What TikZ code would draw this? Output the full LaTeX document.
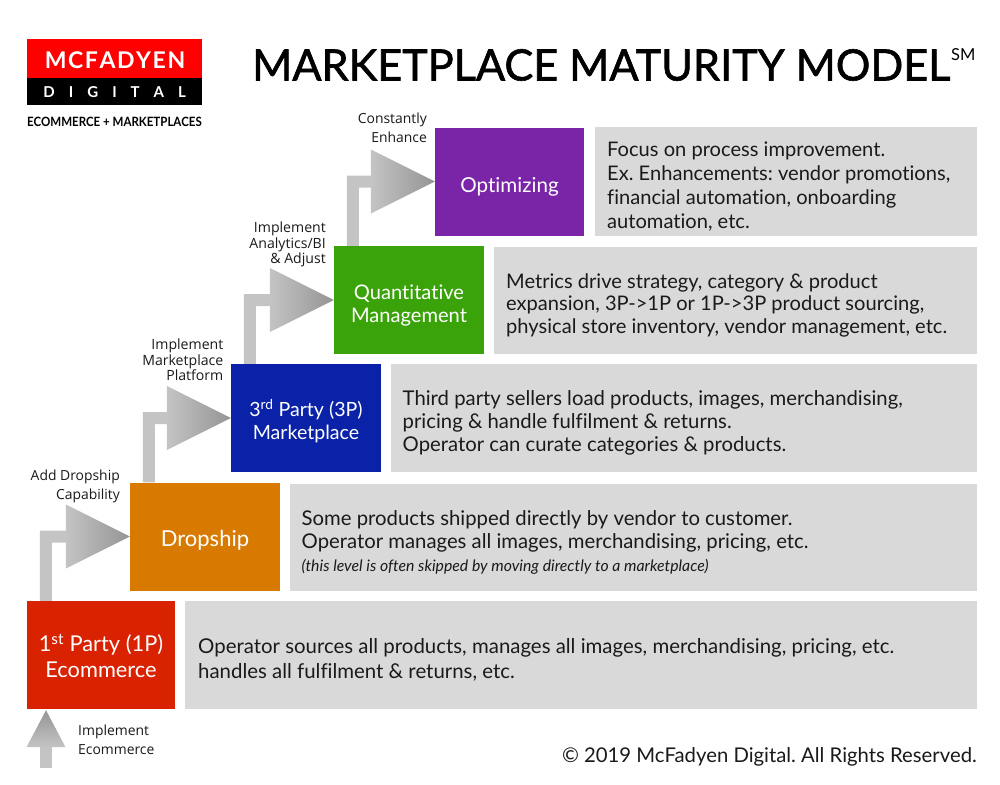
\documentclass[tikz,border=0pt]{standalone}
\usepackage{fontspec}
\setmainfont[Ligatures={NoCommon,TeX}]{Lato}
\newfontfamily\lab{Open Sans}
\newfontfamily\ttl[FakeBold=1.4,Ligatures=NoCommon]{Lato}
\usetikzlibrary{calc}
\definecolor{ored}{HTML}{D92200}
\definecolor{oorange}{HTML}{D87A00}
\definecolor{oblue}{HTML}{0A22A8}
\definecolor{ogreen}{HTML}{3BA30A}
\definecolor{opurple}{HTML}{7A25A8}
\definecolor{ogrey}{HTML}{D9D9D9}
\definecolor{shaft}{HTML}{C4C4C4}
\definecolor{txt}{HTML}{1A1A1A}
\tikzset{
  x=1pt,y=-1pt,
  lvl/.style={minimum width=150pt,minimum height=108pt,inner sep=0pt},
  lvltxt/.style={inner sep=0pt,text=white,align=center},
  desc/.style={fill=ogrey,anchor=north west,inner sep=0pt,minimum height=108pt},
  desctxt/.style={anchor=west,inner sep=0pt,text=txt,align=left},
  smalllab/.style={inner sep=0pt,align=right,text=txt,font=\lab\fontsize{13.9}{19}\selectfont},
}
\newcommand{\bentarrow}[2]{%
  \path (#1.north west) ++(13,0) coordinate (sa);
  \path (#2.west) coordinate (tip);
  \fill[shaft] let \p1=(sa),\p2=(tip) in
    (\x1,\y1) -- (\x1,\y2+6) -- (\x2-64,\y2+6) -- (\x2-64,\y2-6) -- (\x1+12,\y2-6) -- (\x1+12,\y1) -- cycle;
  \shade[left color=shaft,right color=black!42] let \p2=(tip) in
    (\x2-64,\y2+32) -- (tip) -- (\x2-64,\y2-32) -- cycle;
}
\begin{document}
\frenchspacing
\begin{tikzpicture}
\useasboundingbox (0,0) rectangle (1000,784);
\path[fill=white] (0,0) rectangle (1000,784);

% levels
\node[lvl,fill=ored,minimum width=148pt] (l1) at (101,655) {};
\node[lvl,fill=oorange] (l2) at (205,536.5) {};
\node[lvl,fill=oblue] (l3) at (306,418) {};
\node[lvl,fill=ogreen] (l4) at (409,300) {};
\node[lvl,fill=opurple,minimum width=149pt] (l5) at (509.5,181.5) {};
\node[lvltxt,font=\fontsize{21.8}{26}\selectfont] (lt1) at (101,656) {1\textsuperscript{st} Party (1P)\\Ecommerce};
\node[lvltxt,font=\fontsize{22}{26}\selectfont] (lt2) at (205,540) {Dropship};
\node[lvltxt,font=\fontsize{19.6}{23}\selectfont] (lt3) at (306,421) {3\textsuperscript{rd} Party (3P)\\Marketplace};
\node[lvltxt,font=\fontsize{20.1}{23}\selectfont] (lt4) at (409,305) {Quantitative\\Management};
\node[lvltxt,font=\fontsize{20.6}{26}\selectfont] (lt5) at (509.5,187) {Optimizing};

% descriptions
\node[desc,minimum width=792pt] (d1) at (185,601) {};
\node[desc,minimum width=687pt,minimum height=107pt] (d2) at (290,484) {};
\node[desc,minimum width=586pt] (d3) at (391,364) {};
\node[desc,minimum width=483pt,minimum height=107pt] (d4) at (494,247) {};
\node[desc,minimum width=382pt,minimum height=109pt] (d5) at (595,127) {};
\node[desctxt,font=\fontsize{20.4}{25}\selectfont] (dt1) at (198,659.5) {Operator sources all products, manages all images, merchandising, pricing, etc.\\handles all fulfilment \& returns, etc.};
\node[desctxt,font=\fontsize{20.3}{23}\selectfont] (dt2) at (301.5,542.5) {Some products shipped directly by vendor to customer.\\Operator manages all images, merchandising, pricing, etc.\\{\itshape\fontsize{15.8}{20}\selectfont (this level is often skipped by moving directly to a marketplace)}};
\node[desctxt,font=\fontsize{20.3}{23}\selectfont] (dt3) at (402.5,423) {Third party sellers load products, images, merchandising,\\pricing \& handle fulfilment \& returns.\\Operator can curate categories \& products.};
\node[desctxt,font=\fontsize{20.1}{22.5}\selectfont] (dt4) at (506,305) {Metrics drive strategy, category \& product\\expansion, 3P->1P or 1P->3P product sourcing,\\physical store inventory, vendor management, etc.};
\node[desctxt,font=\fontsize{20.1}{23.7}\selectfont] (dt5) at (607,186.5) {Focus on process improvement.\\Ex. Enhancements: vendor promotions,\\financial automation, onboarding\\automation, etc.};

% arrows
\bentarrow{l1}{l2}
\bentarrow{l2}{l3}
\bentarrow{l3}{l4}
\bentarrow{l4}{l5}
\coordinate (start) at (46,768);
\fill[shaft] (start) ++(-6,0) -- ++(0,-28) -- ++(12,0) -- ++(0,28) -- cycle;
\shade[top color=black!42,bottom color=shaft] (l1.south -| start) ++(0,1) -- ++(19.5,37) -- ++(-39,0) -- cycle;

% small labels
\node[smalllab,anchor=north east] (t1) at (120,470) {Add Dropship\\Capability};
\node[smalllab,anchor=north east,font=\lab\fontsize{14.1}{15.5}\selectfont] (t2) at (223.5,339) {Implement\\Marketplace\\Platform};
\node[smalllab,anchor=north east,font=\lab\fontsize{14.1}{15.5}\selectfont] (t3) at (326,222) {Implement\\Analytics/BI\\\& Adjust};
\node[smalllab,anchor=north east] (t4) at (427,113) {Constantly\\Enhance};
\node[smalllab,anchor=north west,align=left] (t0) at (78,725) {Implement\\Ecommerce};

% title and logo
\node[anchor=west,inner sep=0pt,text=black,font=\ttl\fontsize{43.2}{50}\selectfont] (title) at (252,65) {MARKETPLACE MATURITY MODEL};
\node[anchor=west,inner sep=0pt,text=black,font=\fontsize{16.5}{17}\selectfont] (sm) at (951,55) {SM};
\node[anchor=north west,fill=red,minimum width=175pt,minimum height=39pt,inner sep=0pt] (logoa) at (27,39) {};
\node[anchor=center,inner sep=0pt,text=white,font=\bfseries\fontsize{23}{23}\selectfont] (logoat) at (115,60) {M\hspace{1.6pt}C\hspace{1.6pt}F\hspace{1.6pt}A\hspace{1.6pt}D\hspace{1.6pt}Y\hspace{1.6pt}E\hspace{1.6pt}N};
\node[anchor=north west,fill=black,minimum width=175pt,minimum height=27pt,inner sep=0pt,text=white,font=\bfseries\fontsize{15}{15}\selectfont] (logob) at (27,78) {D\hspace{14pt}I\hspace{14pt}G\hspace{14pt}I\hspace{14pt}T\hspace{14pt}A\hspace{14pt}L};
\node[anchor=center,inner sep=0pt,font=\bfseries\fontsize{12.8}{14}\selectfont] (logoc) at (114.5,122) {\scalebox{0.9}[1]{ECOMMERCE + MARKETPLACES}};
\node[anchor=east,inner sep=0pt,text=txt,font=\fontsize{20.3}{22}\selectfont] (copy) at (977,757) {© 2019 McFadyen Digital. All Rights Reserved.};
\end{tikzpicture}
\end{document}
